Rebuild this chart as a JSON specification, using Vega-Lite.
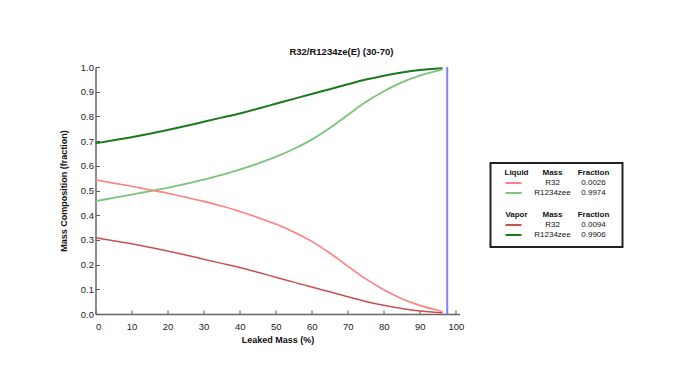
{
  "$schema": "https://vega.github.io/schema/vega-lite/v6.json",
  "background": "white",
  "padding": {"left": 58.5, "top": 46, "right": 0, "bottom": 0},
  "title": {"text": "R32/R1234ze(E) (30-70)", "anchor": "middle", "fontSize": 9.5, "font": "Liberation Sans", "fontWeight": "bold", "color": "#111", "offset": 6},
  "config": {
    "view": {"stroke": null},
    "font": "Liberation Sans",
    "axis": {"grid": false, "labelOverlap": false, "labelFont": "Liberation Sans", "labelFontSize": 9.5, "labelColor": "#222", "titleFont": "Liberation Sans", "titleFontSize": 9, "titleFontWeight": "bold", "titleColor": "#111", "domainColor": "#666", "domainWidth": 1.5, "tickColor": "#555", "tickWidth": 1}
  },
  "spacing": 25,
  "hconcat": [
    {
      "width": 364,
      "height": 247,
      "encoding": {
        "x": {"field": "leak", "type": "quantitative", "scale": {"domain": [0, 101], "nice": false},
              "axis": {"title": "Leaked Mass (%)", "values": [0,10,20,30,40,50,60,70,80,90,100], "tickCount": 20, "labelOverlap": false, "tickSize": -4, "labelPadding": 11, "titlePadding": 5}},
        "y": {"field": "frac", "type": "quantitative", "scale": {"domain": [0, 1], "nice": false},
              "axis": {"title": "Mass Composition (fraction)", "values": [0,0.1,0.2,0.3,0.4,0.5,0.6,0.7,0.8,0.9,1], "tickCount": 20, "labelOverlap": false, "format": ".1f", "tickSize": -4, "labelPadding": 6, "titlePadding": 12}}
      },
      "layer": [
        {
          "data": {"values": [
            {"leak": 0, "frac": 0.691, "series": "Vapor R1234zee"},
            {"leak": 5, "frac": 0.703, "series": "Vapor R1234zee"},
            {"leak": 10, "frac": 0.716, "series": "Vapor R1234zee"},
            {"leak": 15, "frac": 0.730, "series": "Vapor R1234zee"},
            {"leak": 20, "frac": 0.745, "series": "Vapor R1234zee"},
            {"leak": 25, "frac": 0.761, "series": "Vapor R1234zee"},
            {"leak": 30, "frac": 0.778, "series": "Vapor R1234zee"},
            {"leak": 35, "frac": 0.795, "series": "Vapor R1234zee"},
            {"leak": 40, "frac": 0.812, "series": "Vapor R1234zee"},
            {"leak": 45, "frac": 0.831, "series": "Vapor R1234zee"},
            {"leak": 50, "frac": 0.851, "series": "Vapor R1234zee"},
            {"leak": 55, "frac": 0.871, "series": "Vapor R1234zee"},
            {"leak": 60, "frac": 0.891, "series": "Vapor R1234zee"},
            {"leak": 65, "frac": 0.910, "series": "Vapor R1234zee"},
            {"leak": 70, "frac": 0.930, "series": "Vapor R1234zee"},
            {"leak": 75, "frac": 0.949, "series": "Vapor R1234zee"},
            {"leak": 80, "frac": 0.965, "series": "Vapor R1234zee"},
            {"leak": 85, "frac": 0.978, "series": "Vapor R1234zee"},
            {"leak": 90, "frac": 0.988, "series": "Vapor R1234zee"},
            {"leak": 95, "frac": 0.994, "series": "Vapor R1234zee"},
            {"leak": 96.3, "frac": 0.995, "series": "Vapor R1234zee"},
            {"leak": 0, "frac": 0.309, "series": "Vapor R32"},
            {"leak": 5, "frac": 0.297, "series": "Vapor R32"},
            {"leak": 10, "frac": 0.284, "series": "Vapor R32"},
            {"leak": 15, "frac": 0.270, "series": "Vapor R32"},
            {"leak": 20, "frac": 0.255, "series": "Vapor R32"},
            {"leak": 25, "frac": 0.239, "series": "Vapor R32"},
            {"leak": 30, "frac": 0.222, "series": "Vapor R32"},
            {"leak": 35, "frac": 0.205, "series": "Vapor R32"},
            {"leak": 40, "frac": 0.188, "series": "Vapor R32"},
            {"leak": 45, "frac": 0.169, "series": "Vapor R32"},
            {"leak": 50, "frac": 0.149, "series": "Vapor R32"},
            {"leak": 55, "frac": 0.129, "series": "Vapor R32"},
            {"leak": 60, "frac": 0.109, "series": "Vapor R32"},
            {"leak": 65, "frac": 0.090, "series": "Vapor R32"},
            {"leak": 70, "frac": 0.070, "series": "Vapor R32"},
            {"leak": 75, "frac": 0.051, "series": "Vapor R32"},
            {"leak": 80, "frac": 0.035, "series": "Vapor R32"},
            {"leak": 85, "frac": 0.022, "series": "Vapor R32"},
            {"leak": 90, "frac": 0.012, "series": "Vapor R32"},
            {"leak": 95, "frac": 0.006, "series": "Vapor R32"},
            {"leak": 96.3, "frac": 0.005, "series": "Vapor R32"},
            {"leak": 0, "frac": 0.457, "series": "Liquid R1234zee"},
            {"leak": 5, "frac": 0.470, "series": "Liquid R1234zee"},
            {"leak": 10, "frac": 0.483, "series": "Liquid R1234zee"},
            {"leak": 15, "frac": 0.497, "series": "Liquid R1234zee"},
            {"leak": 20, "frac": 0.511, "series": "Liquid R1234zee"},
            {"leak": 25, "frac": 0.527, "series": "Liquid R1234zee"},
            {"leak": 30, "frac": 0.544, "series": "Liquid R1234zee"},
            {"leak": 35, "frac": 0.563, "series": "Liquid R1234zee"},
            {"leak": 40, "frac": 0.585, "series": "Liquid R1234zee"},
            {"leak": 45, "frac": 0.609, "series": "Liquid R1234zee"},
            {"leak": 50, "frac": 0.636, "series": "Liquid R1234zee"},
            {"leak": 55, "frac": 0.668, "series": "Liquid R1234zee"},
            {"leak": 60, "frac": 0.706, "series": "Liquid R1234zee"},
            {"leak": 65, "frac": 0.753, "series": "Liquid R1234zee"},
            {"leak": 70, "frac": 0.806, "series": "Liquid R1234zee"},
            {"leak": 75, "frac": 0.858, "series": "Liquid R1234zee"},
            {"leak": 80, "frac": 0.902, "series": "Liquid R1234zee"},
            {"leak": 85, "frac": 0.938, "series": "Liquid R1234zee"},
            {"leak": 90, "frac": 0.965, "series": "Liquid R1234zee"},
            {"leak": 95, "frac": 0.985, "series": "Liquid R1234zee"},
            {"leak": 96.3, "frac": 0.990, "series": "Liquid R1234zee"},
            {"leak": 0, "frac": 0.543, "series": "Liquid R32"},
            {"leak": 5, "frac": 0.530, "series": "Liquid R32"},
            {"leak": 10, "frac": 0.517, "series": "Liquid R32"},
            {"leak": 15, "frac": 0.503, "series": "Liquid R32"},
            {"leak": 20, "frac": 0.489, "series": "Liquid R32"},
            {"leak": 25, "frac": 0.473, "series": "Liquid R32"},
            {"leak": 30, "frac": 0.456, "series": "Liquid R32"},
            {"leak": 35, "frac": 0.437, "series": "Liquid R32"},
            {"leak": 40, "frac": 0.415, "series": "Liquid R32"},
            {"leak": 45, "frac": 0.391, "series": "Liquid R32"},
            {"leak": 50, "frac": 0.364, "series": "Liquid R32"},
            {"leak": 55, "frac": 0.332, "series": "Liquid R32"},
            {"leak": 60, "frac": 0.294, "series": "Liquid R32"},
            {"leak": 65, "frac": 0.247, "series": "Liquid R32"},
            {"leak": 70, "frac": 0.194, "series": "Liquid R32"},
            {"leak": 75, "frac": 0.142, "series": "Liquid R32"},
            {"leak": 80, "frac": 0.098, "series": "Liquid R32"},
            {"leak": 85, "frac": 0.062, "series": "Liquid R32"},
            {"leak": 90, "frac": 0.035, "series": "Liquid R32"},
            {"leak": 95, "frac": 0.015, "series": "Liquid R32"},
            {"leak": 96.3, "frac": 0.010, "series": "Liquid R32"}
          ]},
          "mark": {"type": "line", "interpolate": "monotone"},
          "encoding": {
            "color": {"field": "series", "type": "nominal", "legend": null,
                      "scale": {"domain": ["Vapor R1234zee", "Liquid R1234zee", "Liquid R32", "Vapor R32"], "range": ["#1b7a1b", "#7cc47c", "#ff8080", "#c85050"]}},
            "strokeWidth": {"field": "series", "type": "nominal", "legend": null,
                      "scale": {"domain": ["Vapor R1234zee", "Liquid R1234zee", "Liquid R32", "Vapor R32"], "range": [2, 1.5, 1.5, 2]}}
          }
        },
        {
          "data": {"values": [{"leak": 97.6, "frac": 0, "hi": 1}]},
          "mark": {"type": "rule", "color": "#8080ff", "strokeWidth": 2},
          "encoding": {
            "y2": {"field": "hi"}
          }
        }
      ]
    },
    {
      "width": 132,
      "height": 247,
      "layer": [
        {
          "data": {"values": [{"c0": 0, "c1": 13.2, "r0": 0, "r1": 8.4}]},
          "mark": {"type": "rect", "fill": "white", "stroke": "#222", "strokeWidth": 2},
          "encoding": {
            "x": {"field": "c0", "type": "quantitative", "scale": {"domain": [0, 13.2], "nice": false, "zero": false}, "axis": null},
            "x2": {"field": "c1"},
            "y": {"field": "r0", "type": "quantitative", "scale": {"domain": [-9.6, 15.1], "nice": false, "zero": false, "reverse": true}, "axis": null},
            "y2": {"field": "r1"}
          }
        },
        {
          "data": {"values": [
            {"c0": 1.5, "c1": 3.1, "row": 2, "col": "Liquid R32"},
            {"c0": 1.5, "c1": 3.1, "row": 3, "col": "Liquid R1234zee"},
            {"c0": 1.5, "c1": 3.1, "row": 6.2, "col": "Vapor R32"},
            {"c0": 1.5, "c1": 3.1, "row": 7.2, "col": "Vapor R1234zee"}
          ]},
          "mark": {"type": "rule", "strokeWidth": 2},
          "encoding": {
            "x": {"field": "c0", "type": "quantitative"},
            "x2": {"field": "c1"},
            "y": {"field": "row", "type": "quantitative"},
            "color": {"field": "col", "type": "nominal", "legend": null,
                      "scale": {"domain": ["Liquid R32", "Liquid R1234zee", "Vapor R32", "Vapor R1234zee"], "range": ["#ff8080", "#2e8b2e", "#ff3030", "#2e9a2e"]}}
          }
        },
        {
          "data": {"values": [
            {"c": 2.6, "row": 1, "t": "Liquid"},
            {"c": 6.2, "row": 1, "t": "Mass"},
            {"c": 10.3, "row": 1, "t": "Fraction"},
            {"c": 2.6, "row": 5.2, "t": "Vapor"},
            {"c": 6.2, "row": 5.2, "t": "Mass"},
            {"c": 10.3, "row": 5.2, "t": "Fraction"}
          ]},
          "mark": {"type": "text", "font": "Liberation Sans", "fontSize": 8, "fontWeight": "bold", "color": "#111", "align": "center", "baseline": "middle"},
          "encoding": {
            "x": {"field": "c", "type": "quantitative"},
            "y": {"field": "row", "type": "quantitative"},
            "text": {"field": "t"}
          }
        },
        {
          "data": {"values": [
            {"c": 6.2, "row": 2, "t": "R32"},
            {"c": 10.3, "row": 2, "t": "0.0026"},
            {"c": 6.2, "row": 3, "t": "R1234zee"},
            {"c": 10.3, "row": 3, "t": "0.9974"},
            {"c": 6.2, "row": 6.2, "t": "R32"},
            {"c": 10.3, "row": 6.2, "t": "0.0094"},
            {"c": 6.2, "row": 7.2, "t": "R1234zee"},
            {"c": 10.3, "row": 7.2, "t": "0.9906"}
          ]},
          "mark": {"type": "text", "font": "Liberation Sans", "fontSize": 8, "color": "#111", "align": "center", "baseline": "middle"},
          "encoding": {
            "x": {"field": "c", "type": "quantitative"},
            "y": {"field": "row", "type": "quantitative"},
            "text": {"field": "t"}
          }
        }
      ]
    }
  ]
}
